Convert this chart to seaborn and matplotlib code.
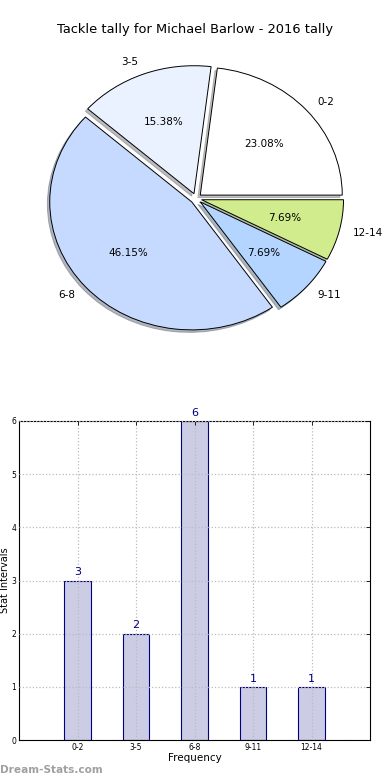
import seaborn as sns
import matplotlib.pyplot as plt

categories = ["0-2", "3-5", "6-8", "9-11", "12-14"]
counts = [3, 2, 6, 1, 1]
pie_colors = ["#FFFFFF", "#EBF2FF", "#C6D9FE", "#B3D5FF", "#D0EC8C"]
title = "Tackle tally for Michael Barlow - 2016 tally"

sns.set_style("white")
plt.rcParams["font.family"] = ["DejaVu Sans"]
plt.rcParams.update({"text.color": "black", "axes.labelcolor": "black",
                     "xtick.color": "black", "ytick.color": "black"})

fig = plt.figure(figsize=(3.9, 7.8), dpi=100)

# pie chart (top)
ax_pie = fig.add_axes([18.5 / 390, (780 - 358.5) / 780, 355 / 390, 320 / 780])
wedges, texts, autotexts = ax_pie.pie(
    counts,
    labels=categories,
    colors=pie_colors,
    explode=[0.04] * len(counts),
    autopct="%.2f%%",
    shadow={"ox": -0.012, "oy": -0.014, "shade": 0.5},
    startangle=0,
    counterclock=True,
    wedgeprops={"edgecolor": "black", "linewidth": 0.7},
    textprops={"fontsize": 7.5},
)
ax_pie.set_aspect("auto")
ax_pie.set_xlim(-1.25, 1.25)
ax_pie.set_ylim(-1.25, 1.25)
fig.text(0.5, 1 - 30 / 780, title, ha="center", va="center", fontsize=9.4)

# bar chart (bottom)
ax_bar = fig.add_axes([19 / 390, 40 / 780, 351 / 390, 319 / 780])
sns.barplot(
    x=categories,
    y=counts,
    ax=ax_bar,
    color="#CCCCE5",
    edgecolor="#000080",
    linewidth=0.8,
    width=0.45,
    saturation=1,
)
ax_bar.set_xlim(-1, 5)
ax_bar.set_ylim(0, 6)
ax_bar.set_yticks(range(0, 7))
ax_bar.grid(True, color="#BBBBBB", linestyle=":", linewidth=0.9)
ax_bar.set_axisbelow(False)
ax_bar.tick_params(direction="in", top=True, right=True, labelsize=5.5,
                   length=3, width=0.6, pad=2)
for spine in ax_bar.spines.values():
    spine.set_visible(True)
    spine.set_color("black")
    spine.set_linewidth(0.8)
for i, v in enumerate(counts):
    ax_bar.text(i, v + 0.06, str(v), ha="center", va="bottom",
                fontsize=8, color="#000080")
ax_bar.set_xlabel("Frequency", fontsize=7.5, labelpad=1)
ax_bar.set_ylabel("Stat Intervals", fontsize=7)
ax_bar.yaxis.set_label_coords(-0.026, 0.5)

fig.text(0.0, 1 - 770 / 780, "Dream-Stats.com", ha="left", va="center",
         fontsize=7.6, color="#A0A0A0", fontweight="bold")

fig.savefig("out.png", dpi=100)
